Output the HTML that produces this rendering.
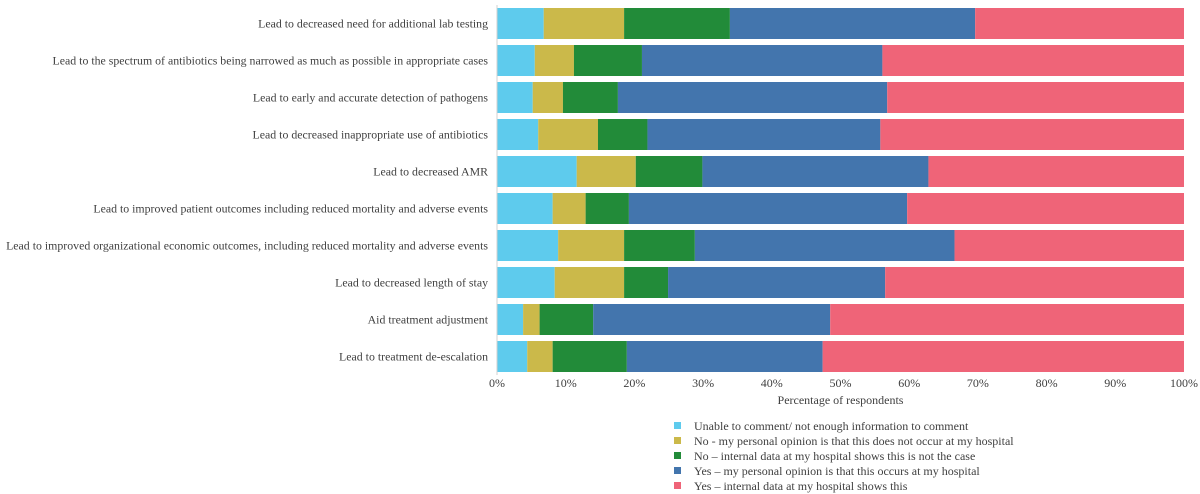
<!DOCTYPE html>
<html><head><meta charset="utf-8"><style>
body{margin:0;background:#fff;}
svg{display:block;font-family:"Liberation Serif",serif;}
</style></head><body>
<svg id="chart" width="1200" height="494"></svg>
<script>
const categories=["Lead to decreased need for additional lab testing","Lead to the spectrum of antibiotics being narrowed as much as possible in appropriate cases","Lead to early and accurate detection of pathogens","Lead to decreased inappropriate use of antibiotics","Lead to decreased AMR","Lead to improved patient outcomes including reduced mortality and adverse events","Lead to improved organizational economic outcomes, including reduced mortality and adverse events","Lead to decreased length of stay","Aid treatment adjustment","Lead to treatment de-escalation"];
const unable=[6.8,5.5,5.2,6.0,11.6,8.1,8.9,8.4,3.8,4.4];
const noOpinion=[11.7,5.7,4.4,8.7,8.6,4.8,9.6,10.1,2.4,3.7];
const noData=[15.4,9.9,8.0,7.2,9.7,6.3,10.3,6.4,7.8,10.8];
const yesOpinion=[35.7,35.0,39.2,33.9,32.9,40.5,37.8,31.6,34.5,28.5];
const yesData=[30.4,43.9,43.2,44.2,37.2,40.3,33.4,43.5,51.5,52.6];
const series=[unable,noOpinion,noData,yesOpinion,yesData];
const seriesNames=["Unable to comment/ not enough information to comment","No - my personal opinion is that this does not occur at my hospital","No – internal data at my hospital shows this is not the case","Yes – my personal opinion is that this occurs at my hospital","Yes – internal data at my hospital shows this"];
const colors=["#5ecbed","#cbb94a","#228b39","#4375ad","#ef6478"];
const ticks=[0,10,20,30,40,50,60,70,80,90,100];
const NS="http://www.w3.org/2000/svg";
const svg=document.getElementById('chart');
const x0=497,x1=1184,top0=5,rowH=37,barH=31;
const xs=v=>x0+(x1-x0)*v/100;
const yc=i=>top0+rowH*i+rowH/2;
function mk(t,a){const e=document.createElementNS(NS,t);for(const k in a)e.setAttribute(k,a[k]);svg.appendChild(e);return e;}
categories.forEach((c,i)=>{
  let acc=0;
  series.forEach((s,j)=>{
    const r=mk('rect',{x:xs(acc),y:yc(i)-barH/2,width:xs(acc+s[i])-xs(acc),height:barH,fill:colors[j]});
    
    
    acc+=s[i];
  });
  const t=mk('text',{x:488,y:yc(i)+4,'text-anchor':'end','font-size':11.85,fill:'#404040'});
  t.textContent=c;
  
  
});
const ax=mk('line',{x1:x0,y1:top0,x2:x0,y2:top0+rowH*10,stroke:'#d0d0d0'});


ticks.forEach(v=>{
  const t=mk('text',{x:xs(v),y:387,'text-anchor':'middle','font-size':12,fill:'#404040'});
  t.textContent=v+'%';
  
  
});
const tt=mk('text',{x:xs(50),y:404,'text-anchor':'middle','font-size':12,fill:'#404040'});
tt.textContent='Percentage of respondents';


seriesNames.forEach((n,j)=>{
  const y=426+j*15;
  const r=mk('rect',{x:674,y:y-4,width:7,height:7,fill:colors[j]});
  
  
  const t=mk('text',{x:694,y:y+4,'font-size':12,fill:'#404040'});
  t.textContent=n;
  
  
});
</script>
</body></html>
